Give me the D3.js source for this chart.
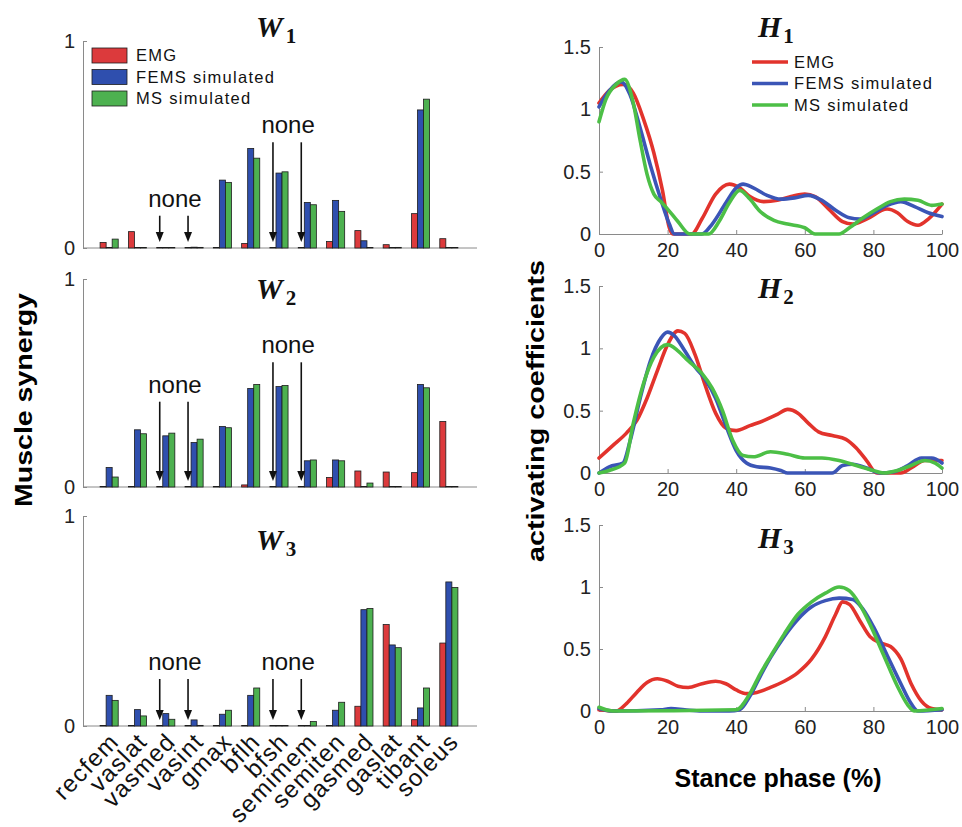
<!DOCTYPE html>
<html>
<head>
<meta charset="utf-8">
<script src="https://cdn.jsdelivr.net/npm/d3@7"></script>
<style>
  body { margin: 0; background: #fff; }
  svg { display: block; font-family: "Liberation Sans", Arial, sans-serif; }
</style>
</head>
<body>
<script>
// Data:
const muscles = ["recfem", "vaslat", "vasmed", "vasint", "gmax", "bflh", "bfsh",
  "semimem", "semiten", "gasmed", "gaslat", "tibant", "soleus"];
const sources = ["EMG", "FEMS simulated", "MS simulated"];

// muscle synergy weights (W)
const w1Emg  = [0.027, 0.079, 0, 0, 0, 0.022, 0, 0, 0.031, 0.084, 0.016, 0.166, 0.045];
const w1Fems = [0, 0, 0, 0.004, 0.328, 0.481, 0.362, 0.220, 0.230, 0.035, 0, 0.667, 0];
const w1Ms   = [0.043, 0, 0, 0.003, 0.317, 0.434, 0.368, 0.209, 0.177, 0, 0.003, 0.719, 0];

const w2Emg  = [0, 0, 0, 0, 0, 0.010, 0, 0, 0.046, 0.077, 0.072, 0.069, 0.315];
const w2Fems = [0.094, 0.275, 0.246, 0.214, 0.291, 0.474, 0.483, 0.126, 0.130, 0, 0, 0.493, 0];
const w2Ms   = [0.048, 0.256, 0.259, 0.230, 0.285, 0.493, 0.488, 0.130, 0.126, 0.019, 0, 0.477, 0];

const w3Emg  = [0, 0, 0, 0, 0, 0, 0, 0, 0, 0.094, 0.483, 0.030, 0.395];
const w3Fems = [0.146, 0.078, 0.059, 0.029, 0.056, 0.146, 0, 0, 0.075, 0.554, 0.386, 0.086, 0.686];
const w3Ms   = [0.122, 0.048, 0.032, 0.003, 0.075, 0.181, 0, 0.021, 0.113, 0.560, 0.373, 0.181, 0.660];

// muscles with no EMG recording, per synergy
const noneW1 = [["vasmed", "vasint"], ["bfsh", "semimem"]];
const noneW2 = [["vasmed", "vasint"], ["bfsh", "semimem"]];
const noneW3 = [["vasmed", "vasint"], ["bfsh", "semimem"]];

// activating coefficients (H): [stance %, value]
const h1Emg = [[0,1.05],[3,1.15],[7,1.2],[10,1.13],[13,0.92],[16,0.65],[18.5,0.35],[20.5,0.05],[21.5,0],[27,0],
  [30,0.12],[34,0.32],[38,0.4],[41,0.37],[44,0.3],[48,0.26],[52,0.27],[56,0.3],[60,0.32],[63,0.3],[67,0.2],
  [71,0.1],[74,0.08],[78,0.12],[84,0.2],[87,0.17],[90,0.1],[93,0.07],[96,0.12],[100,0.24]];
const h1Fems = [[0,1.02],[3,1.15],[6.5,1.22],[9,1.12],[12,0.85],[15,0.55],[18,0.28],[20.5,0.08],[22,0],[30,0],
  [33,0.08],[37,0.25],[40,0.37],[42,0.4],[45,0.37],[49,0.31],[53,0.28],[57,0.29],[61,0.31],[65,0.27],[69,0.19],
  [73,0.13],[76,0.12],[80,0.17],[84,0.23],[88,0.26],[92,0.22],[96,0.17],[100,0.14]];
const h1Ms = [[0,0.9],[2,1.08],[5,1.2],[7.5,1.24],[10,1.05],[12,0.75],[14,0.48],[16,0.32],[18,0.26],[20,0.2],
  [23,0.1],[26.5,0],[32,0],[35,0.1],[38,0.25],[41,0.35],[44,0.28],[47,0.18],[51,0.11],[55,0.08],[60,0.05],
  [63,0],[70,0],[73,0.05],[77,0.13],[81,0.2],[85,0.26],[89,0.28],[93,0.27],[97,0.23],[100,0.24]];

const h2Emg = [[0,0.12],[4,0.22],[8,0.32],[11,0.42],[14,0.6],[17,0.82],[20,1.03],[23,1.14],[25,1.12],[28,0.95],
  [31,0.7],[34,0.48],[37,0.36],[40,0.34],[44,0.38],[48,0.42],[52,0.47],[55,0.51],[58,0.48],[61,0.4],[64,0.33],
  [68,0.3],[72,0.27],[75,0.2],[78,0.1],[81,0],[88,0],[91,0.04],[95,0.1],[100,0.1]];
const h2Fems = [[0,0],[3,0.05],[7,0.08],[9,0.25],[12,0.6],[15,0.9],[18,1.08],[20,1.13],[22,1.1],[25,0.98],
  [28,0.85],[31,0.75],[34,0.6],[37,0.38],[40,0.18],[43,0.08],[46,0.05],[50,0.04],[53,0.02],[55,0],[68,0],
  [71,0.06],[74,0.07],[78,0.04],[82,0],[86,0.01],[90,0.06],[94,0.12],[97,0.12],[100,0.08]];
const h2Ms = [[0,0],[3,0.02],[7.5,0.08],[10,0.4],[13,0.72],[16,0.93],[20,1.03],[23,0.98],[26,0.9],[30,0.8],
  [33,0.68],[36,0.5],[39,0.26],[42,0.14],[45,0.13],[50,0.17],[55,0.15],[60,0.12],[65,0.12],[70,0.1],[75,0.06],
  [80,0.02],[83,0],[87,0.02],[91,0.06],[95,0.1],[98,0.08],[100,0.04]];

const h3Emg = [[0,0.01],[5,0],[8,0.06],[11,0.15],[14,0.23],[17,0.26],[20,0.24],[23,0.2],[26,0.19],[30,0.22],
  [34,0.24],[37,0.22],[40,0.17],[43,0.14],[46,0.15],[50,0.19],[54,0.24],[58,0.31],[62,0.42],[66,0.6],[69,0.78],
  [71,0.88],[73,0.86],[76,0.73],[79,0.6],[82,0.55],[85,0.52],[88,0.42],[91,0.22],[94,0.08],[97,0.02],[100,0.01]];
const h3Fems = [[0,0.02],[4,0],[18,0.01],[21,0.02],[25,0.01],[30,0],[38,0],[41,0.01],[44,0.12],[47,0.28],
  [50,0.43],[54,0.6],[58,0.74],[62,0.84],[66,0.89],[70,0.91],[74,0.9],[77,0.82],[80,0.68],[84,0.45],[88,0.22],
  [91,0.06],[93,0],[100,0.01]];
const h3Ms = [[0,0.03],[4,0],[40,0.01],[44,0.14],[47,0.3],[50,0.44],[54,0.62],[58,0.78],[62,0.88],[66,0.95],
  [70,1.0],[73,0.97],[76,0.86],[79,0.7],[83,0.45],[87,0.2],[90,0.05],[92,0],[100,0.02]];

const hTicksY = [0, 0.5, 1, 1.5];
const hTicksX = [0, 20, 40, 60, 80, 100];

// Styles:
const barColors = ["#dc3a3c", "#2f4fae", "#4db150"];
const lineColors = ["#e2332c", "#3b55b6", "#4cbf46"];
const axisColor = "#8a8a8a";
const textColor = "#222";

// Canvas:
const width = 962, height = 827;
const svg = d3.select("body").append("svg").attr("width", width).attr("height", height);

// Left column: W bar panels
const wPanels = [
  { sub: "1", values: [w1Emg, w1Fems, w1Ms], none: noneW1, top: 41, bottom: 248, titleY: 37,
    noneY: [206.7, 133.3] },
  { sub: "2", values: [w2Emg, w2Fems, w2Ms], none: noneW2, top: 279, bottom: 487, titleY: 299,
    noneY: [392.7, 353.3] },
  { sub: "3", values: [w3Emg, w3Fems, w3Ms], none: noneW3, top: 516, bottom: 726, titleY: 550,
    noneY: [670, 670] }
];

const wAxisX0 = 83, wAxisX1 = 477;
const xBand = d3.scaleBand().domain(muscles).range([95, 463]).paddingInner(0.36).paddingOuter(0.18);
const xSub = d3.scaleBand().domain(d3.range(3)).range([0, xBand.bandwidth()]);

wPanels.forEach((p, k) => {
  const y = d3.scaleLinear().domain([0, 1]).range([p.bottom, p.top]);
  const g = svg.append("g");

  // axes
  const yAxis = d3.axisLeft(y).tickValues([0, 1]).tickFormat(d3.format("d"))
    .tickSizeInner(-4).tickSizeOuter(0).tickPadding(8);
  g.append("g").attr("transform", `translate(${wAxisX0},0)`).call(yAxis)
    .call((s) => {
      s.select(".domain").attr("stroke", axisColor);
      s.selectAll(".tick line").attr("stroke", axisColor);
      s.selectAll(".tick text").attr("font-size", 20).attr("fill", textColor)
        .attr("font-family", "Liberation Sans, Arial, sans-serif");
    });
  g.append("line").attr("x1", wAxisX0).attr("x2", wAxisX1)
    .attr("y1", p.bottom).attr("y2", p.bottom).attr("stroke", axisColor);

  // bars
  muscles.forEach((m, i) => {
    p.values.forEach((vals, j) => {
      const v = vals[i];
      const h = Math.max(y(0) - y(v), 0.6);
      g.append("rect")
        .attr("x", xBand(m) + xSub(j))
        .attr("y", y(0) - h)
        .attr("width", xSub.bandwidth())
        .attr("height", h)
        .attr("fill", barColors[j])
        .attr("stroke", "#1d1d1d")
        .attr("stroke-width", 0.8);
    });
  });

  // "none" annotations with arrows
  p.none.forEach((pair, q) => {
    const ty = p.noneY[q];
    const xs = pair.map((m) => xBand(m) + xSub(0) + xSub.bandwidth() / 2);
    g.append("text").attr("x", (xs[0] + xs[1]) / 2 + 1).attr("y", ty)
      .attr("text-anchor", "middle").attr("font-size", 24).attr("fill", "#111")
      .text("none");
    xs.forEach((ax) => {
      const tip = p.bottom - 6;
      g.append("line").attr("x1", ax).attr("x2", ax).attr("y1", ty + 9).attr("y2", tip - 8)
        .attr("stroke", "#111").attr("stroke-width", 1.6);
      g.append("path")
        .attr("d", `M${ax - 4},${tip - 10}L${ax + 4},${tip - 10}L${ax},${tip}Z`)
        .attr("fill", "#111");
    });
  });

  // title
  const t = g.append("text").attr("x", 256).attr("y", p.titleY)
    .attr("font-family", "Liberation Serif, Times New Roman, serif")
    .attr("font-weight", "bold").attr("font-style", "italic").attr("fill", "#111");
  t.append("tspan").attr("font-size", 30).text("W");
  t.append("tspan").attr("font-size", 21).attr("font-style", "normal").attr("dx", 3).attr("dy", 6).text(p.sub);
});

// muscle names under bottom panel
svg.append("g").selectAll("text").data(muscles).enter().append("text")
  .attr("transform", (d) => `translate(${xBand(d) + xBand.bandwidth() / 2 + 5},${737}) rotate(-46)`)
  .attr("text-anchor", "end")
  .attr("dy", "0.35em")
  .attr("font-size", 24)
  .attr("letter-spacing", 1.3)
  .attr("fill", "#111")
  .text((d) => d);

// W legend
const wLegend = svg.append("g");
sources.forEach((s, j) => {
  const ly = 48 + j * 21.5;
  wLegend.append("rect").attr("x", 92).attr("y", ly).attr("width", 35).attr("height", 15)
    .attr("fill", barColors[j]).attr("stroke", "#1d1d1d").attr("stroke-width", 0.8);
  wLegend.append("text").attr("x", 136).attr("y", ly + 7.5).attr("dy", "0.36em")
    .attr("font-size", 16.5).attr("letter-spacing", 1.3).attr("fill", "#111").text(s);
});

// Right column: H line panels
const hPanels = [
  { sub: "1", series: [h1Emg, h1Fems, h1Ms], top: 47, bottom: 234, titleY: 37 },
  { sub: "2", series: [h2Emg, h2Fems, h2Ms], top: 286, bottom: 473, titleY: 298 },
  { sub: "3", series: [h3Emg, h3Fems, h3Ms], top: 525, bottom: 711, titleY: 548 }
];

const hX = d3.scaleLinear().domain([0, 100]).range([599, 942]);

hPanels.forEach((p) => {
  const y = d3.scaleLinear().domain([0, 1.5]).range([p.bottom, p.top]);
  const g = svg.append("g");

  const yAxis = d3.axisLeft(y).tickValues(hTicksY).tickFormat((d) => d)
    .tickSizeInner(-4).tickSizeOuter(0).tickPadding(8);
  const xAxis = d3.axisBottom(hX).tickValues(hTicksX)
    .tickSizeInner(-4).tickSizeOuter(0).tickPadding(9);

  const styleAxis = (s) => {
    s.select(".domain").attr("stroke", axisColor);
    s.selectAll(".tick line").attr("stroke", axisColor);
    s.selectAll(".tick text").attr("font-size", 20).attr("fill", textColor)
      .attr("font-family", "Liberation Sans, Arial, sans-serif");
  };
  g.append("g").attr("transform", `translate(${hX(0)},0)`).call(yAxis).call(styleAxis);
  g.append("g").attr("transform", `translate(0,${p.bottom})`).call(xAxis).call(styleAxis);

  const line = d3.line().x((d) => hX(d[0])).y((d) => y(d[1])).curve(d3.curveMonotoneX);
  p.series.forEach((s, j) => {
    g.append("path").datum(s).attr("d", line)
      .attr("fill", "none").attr("stroke", lineColors[j])
      .attr("stroke-width", 3.6).attr("stroke-linejoin", "round").attr("stroke-linecap", "round");
  });

  const t = g.append("text").attr("x", 758).attr("y", p.titleY)
    .attr("font-family", "Liberation Serif, Times New Roman, serif")
    .attr("font-weight", "bold").attr("font-style", "italic").attr("fill", "#111");
  t.append("tspan").attr("font-size", 30).text("H");
  t.append("tspan").attr("font-size", 21).attr("font-style", "normal").attr("dx", 2).attr("dy", 6).text(p.sub);
});

// H legend
const hLegend = svg.append("g");
sources.forEach((s, j) => {
  const ly = 62 + j * 21.5;
  hLegend.append("line").attr("x1", 752).attr("x2", 788).attr("y1", ly).attr("y2", ly)
    .attr("stroke", lineColors[j]).attr("stroke-width", 3.6);
  hLegend.append("text").attr("x", 794).attr("y", ly).attr("dy", "0.36em")
    .attr("font-size", 16.5).attr("letter-spacing", 1.3).attr("fill", "#111").text(s);
});

// Axis titles
svg.append("text")
  .attr("transform", "translate(32,400) rotate(-90)")
  .attr("text-anchor", "middle").attr("font-weight", "bold").attr("font-size", 23)
  .attr("textLength", 214).attr("lengthAdjust", "spacingAndGlyphs")
  .attr("fill", "#000").text("Muscle synergy");

svg.append("text")
  .attr("transform", "translate(544,411) rotate(-90)")
  .attr("text-anchor", "middle").attr("font-weight", "bold").attr("font-size", 23)
  .attr("textLength", 302).attr("lengthAdjust", "spacingAndGlyphs")
  .attr("fill", "#000").text("activating coefficients");

svg.append("text")
  .attr("x", 778).attr("y", 787)
  .attr("text-anchor", "middle").attr("font-weight", "bold").attr("font-size", 25)
  .attr("fill", "#000").text("Stance phase (%)");
</script>
</body>
</html>
